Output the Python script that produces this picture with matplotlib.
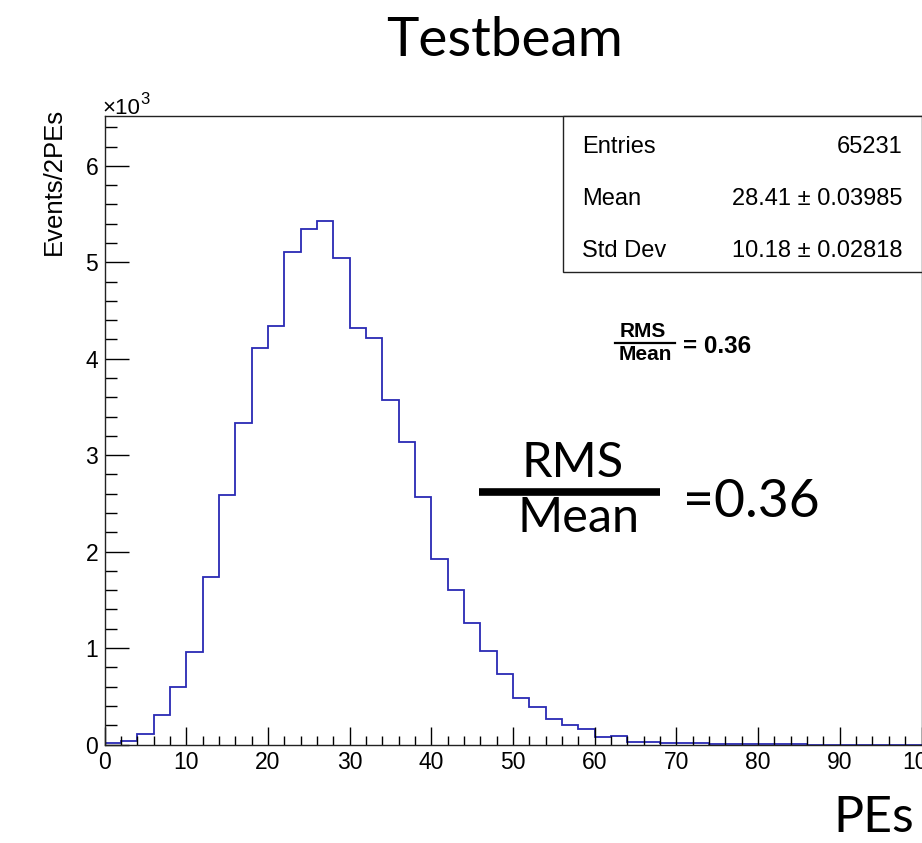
import numpy as np
import matplotlib
matplotlib.use("Agg")
import matplotlib.pyplot as plt
from matplotlib.ticker import MultipleLocator, FixedLocator
from matplotlib.lines import Line2D
from matplotlib.patches import Rectangle

# ---- data ----
bin_edges = list(range(0, 102, 2))
counts = [15, 40, 104, 304, 594, 961, 1739, 2583, 3336, 4108,
          4339, 5110, 5342, 5432, 5042, 4322, 4212, 3572, 3133, 2562,
          1922, 1604, 1261, 965, 736, 483, 394, 262, 200, 162,
          73, 86, 27, 27, 17, 20, 15, 8, 5, 3,
          2, 1, 1, 0, 0, 0, 0, 0, 0, 0]
y_tick_values = [0, 1000, 2000, 3000, 4000, 5000, 6000]
y_tick_labels = ["0", "1", "2", "3", "4", "5", "6"]
x_tick_values = [0, 10, 20, 30, 40, 50, 60, 70, 80, 90, 100]
x_tick_labels = ["0", "10", "20", "30", "40", "50", "60", "70", "80", "90", "100"]
stats_names = ["Entries", "Mean", "Std Dev"]
stats_values = ["65231", "28.41 \u00b1 0.03985", "10.18 \u00b1 0.02818"]

W, H = 922, 843
fig = plt.figure(figsize=(W / 100, H / 100), dpi=100)

def fx(px):
    return px / W

def fy(py):
    return 1 - py / H

def ftext(xpx, ypx, s, **kw):
    return fig.text(fx(xpx), fy(ypx), s, **kw)

ax_left, ax_right, ax_top, ax_bottom = 104.5, 921.5, 115.7, 744.5
ax = fig.add_axes([fx(ax_left), fy(ax_bottom), (ax_right - ax_left) / W, (ax_bottom - ax_top) / H])

ax.stairs(counts, bin_edges, color="#2a2ab4", lw=1.3, baseline=0)
ax.set_xlim(0, 100)
ax.set_ylim(0, 6520)

ax.xaxis.set_major_locator(FixedLocator(x_tick_values))
ax.set_xticklabels(x_tick_labels)
ax.xaxis.set_minor_locator(MultipleLocator(2))
ax.yaxis.set_major_locator(FixedLocator(y_tick_values))
ax.set_yticklabels(y_tick_labels)
ax.yaxis.set_minor_locator(MultipleLocator(200))

tick_font = "Liberation Sans"
ax.tick_params(axis="x", which="major", direction="in", length=13, width=1.0, pad=5,
               labelsize=16.5, colors="black")
ax.tick_params(axis="x", which="minor", direction="in", length=6.5, width=1.0)
ax.tick_params(axis="y", which="major", direction="in", length=17.5, width=1.0, pad=4.5,
               labelsize=16.5)
ax.tick_params(axis="y", which="minor", direction="in", length=8.5, width=1.0)
for lab in ax.get_xticklabels() + ax.get_yticklabels():
    lab.set_family(tick_font)
for sp in ax.spines.values():
    sp.set_linewidth(1.0)
    sp.set_color("#222222")

# y axis title
ftext(54, 108, "Events/2PEs", rotation=90, ha="center", va="top", fontsize=18.5,
      family=tick_font)
# x10^3 multiplier
ftext(102.5, 113.5, "\u00d710", ha="left", va="baseline", fontsize=16, family=tick_font)
ftext(140.5, 104, "3", ha="left", va="baseline", fontsize=12, family=tick_font)

# stats box
box = Rectangle((fx(563.3), fy(272)), fx(921.7) - fx(563.3), fy(115.7) - fy(272),
                transform=fig.transFigure, fill=True, facecolor="white",
                edgecolor="#222222", lw=1.0, zorder=5)
fig.patches.append(box)
row_baselines = [153, 205, 257]
for name, val, yb in zip(stats_names, stats_values, row_baselines):
    ftext(581.7, yb, name, ha="left", va="baseline", fontsize=17, family=tick_font, zorder=6)
    ftext(902, yb, val, ha="right", va="baseline", fontsize=17, family=tick_font, zorder=6)

# small bold ratio annotation
ftext(642.5, 337, "RMS", ha="center", va="baseline", fontsize=15, family=tick_font,
      weight="bold")
ftext(645.5, 360, "Mean", ha="center", va="baseline", fontsize=15, family=tick_font,
      weight="bold")
fig.add_artist(Line2D([fx(615), fx(675)], [fy(342.7), fy(342.7)], transform=fig.transFigure,
                      color="black", lw=1.6))
ftext(682.7, 353, "= 0.36", ha="left", va="baseline", fontsize=17.5, family=tick_font,
      weight="bold")

# large overlaid ratio
big_font = "Lato"
ftext(573, 476.7, "RMS", ha="center", va="baseline", fontsize=35, family=big_font)
ftext(578, 531.7, "Mean", ha="center", va="baseline", fontsize=35, family=big_font)
fig.add_artist(Line2D([fx(479.3), fx(660)], [fy(492), fy(492)], transform=fig.transFigure,
                      color="black", lw=5.5, solid_capstyle="butt"))
ftext(683, 516.7, "=0.36", ha="left", va="baseline", fontsize=38.5, family=big_font)

# title and x label
ftext(504.2, 56, "Testbeam", ha="center", va="baseline", fontsize=39.5, family=big_font)
ftext(914, 832, "PEs", ha="right", va="baseline", fontsize=36, family=big_font)

fig.savefig("out.png", dpi=100)
